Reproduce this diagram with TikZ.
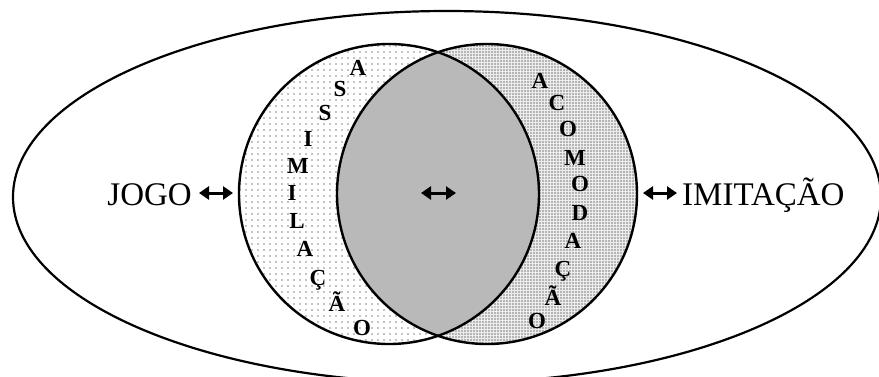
\documentclass[tikz,border=0pt]{standalone}
\usepackage{fontspec}
\setmainfont{Liberation Serif}
\usetikzlibrary{arrows.meta,patterns.meta}
\begin{document}
\begin{tikzpicture}[x=1pt,y=-1pt,
  lbl/.style={font=\fontsize{33}{33}\selectfont, inner sep=0pt},
  vl/.style={font=\bfseries\fontsize{23}{23}\selectfont, inner sep=0pt},
  dbl/.style={line width=3pt, {Triangle[length=10pt,width=13pt]}-{Triangle[length=10pt,width=13pt]}},
  ring/.style={draw=black, line width=2.4pt},
  outer/.style={draw=black, line width=2.2pt}]
\useasboundingbox (0,0) rectangle (879,376);
% outer ellipse
\draw[outer] (447,197) ellipse [x radius=434, y radius=186];
% crescents
\path[pattern={Dots[distance=6pt,radius=0.7pt]}] (389,194) circle[radius=150];
\path[fill=gray!15] (487,194) circle[radius=150];
\path[pattern={Dots[distance=3pt,radius=0.7pt]}] (487,194) circle[radius=150];
% lens
\begin{scope}
  \clip (389,194) circle[radius=150];
  \fill[gray!55] (487,194) circle[radius=150];
\end{scope}
\draw[ring] (389,194) circle[radius=150];
\draw[ring] (487,194) circle[radius=150];
% labels
\node[lbl, anchor=base east] (jogo) at (192,205) {JOGO};
\node[lbl, anchor=base west] (imit) at (682,205) {IMITAÇÃO};
% arrows
\coordinate (jl) at (199,193);
\coordinate (jr) at (233,193);
\coordinate (cl) at (421,193);
\coordinate (cr) at (456,193);
\coordinate (il) at (643,193);
\coordinate (ir) at (677,193);
\draw[dbl] (jl) -- (jr);
\draw[dbl] (cl) -- (cr);
\draw[dbl] (il) -- (ir);
% vertical words
\foreach \t/\x/\y [count=\i] in {A/358/67, S/340/88, S/325/112, I/308/138, M/298/165, I/292/192, L/297/220, A/305/248, Ç/318/277, Ã/337/303, O/362/327}
  \node[vl, anchor=base] (as\i) at (\x,\y+8) {\t};
\foreach \t/\x/\y [count=\i] in {A/540/80, C/557/102, O/568/128, M/575/157, O/580/183, D/580/212, A/573/240, Ç/563/268, Ã/553/297, O/537/320}
  \node[vl, anchor=base] (ac\i) at (\x,\y+8) {\t};
\end{tikzpicture}
\end{document}
